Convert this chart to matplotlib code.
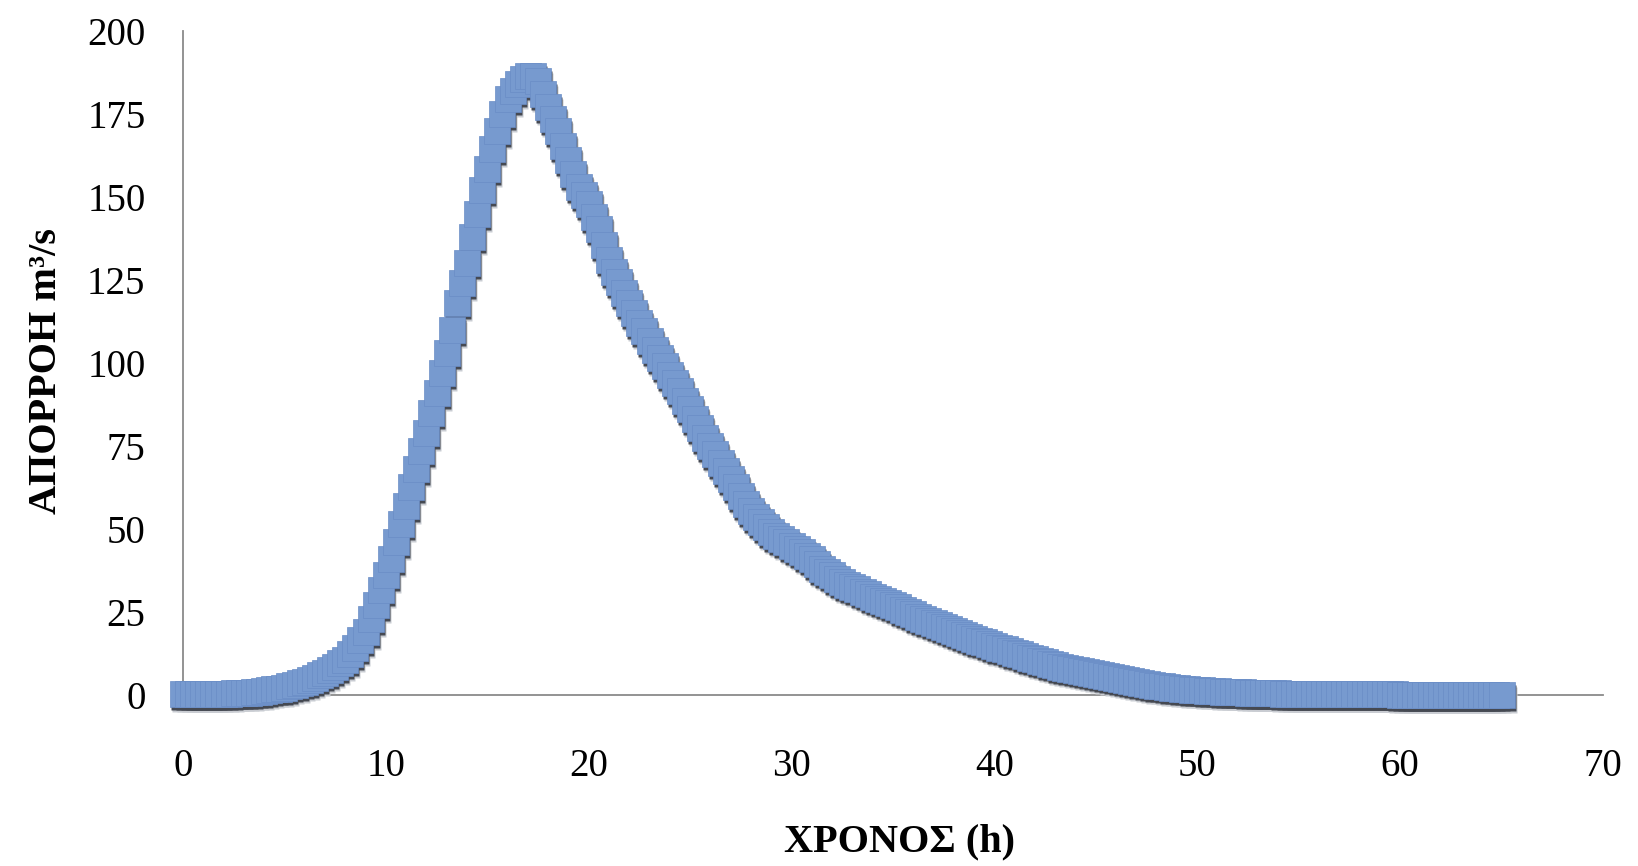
import numpy as np
import matplotlib
matplotlib.use("Agg")
import matplotlib.pyplot as plt
from matplotlib.transforms import offset_copy

# ---- data: runoff hydrograph, sampled every 0.25 h (one row per hour) ----
time_step_h = 0.25
flow_m3s = [
    0.3, 0.3, 0.3, 0.3,
    0.3, 0.3, 0.3, 0.4,
    0.4, 0.4, 0.5, 0.5,
    0.6, 0.7, 0.8, 1.0,
    1.2, 1.4, 1.7, 1.9,
    2.2, 2.6, 3.0, 3.5,
    4.0, 4.6, 5.2, 5.9,
    6.6, 7.5, 8.5, 9.5,
    10.5, 12.2, 14.0, 16.5,
    19.0, 23.0, 27.0, 31.5,
    36.0, 41.0, 46.0, 51.5,
    57.0, 62.5, 68.0, 73.5,
    79.0, 85.0, 91.0, 97.0,
    103.0, 110.0, 118.0, 124.0,
    130.0, 138.0, 145.0, 152.0,
    158.5, 164.5, 170.0, 175.0,
    179.5, 182.0, 184.0, 185.5,
    186.5, 186.5, 185.0, 181.0,
    177.0, 173.5, 170.0, 165.5,
    161.0, 157.0, 153.0, 150.5,
    148.0, 144.0, 140.5, 135.5,
    131.0, 127.5, 124.5, 121.0,
    118.0, 115.0, 112.0, 109.5,
    106.5, 104.0, 101.5, 99.0,
    96.5, 94.0, 91.5, 88.5,
    86.0, 83.0, 80.5, 77.5,
    75.0, 72.5, 70.0, 67.5,
    65.0, 62.5, 60.0, 57.5,
    55.5, 53.5, 52.0, 50.5,
    49.0, 48.0, 47.0, 46.0,
    45.0, 44.0, 43.0, 42.0,
    41.0, 39.5, 38.0, 37.0,
    36.0, 35.0, 34.0, 33.0,
    32.5, 31.8, 31.0, 30.3,
    29.6, 29.0, 28.4, 27.7,
    27.1, 26.4, 25.7, 25.0,
    24.3, 23.6, 23.0, 22.3,
    21.7, 21.1, 20.5, 19.9,
    19.3, 18.7, 18.1, 17.5,
    17.0, 16.4, 15.9, 15.4,
    14.8, 14.2, 13.7, 13.2,
    12.7, 12.2, 11.7, 11.2,
    10.7, 10.3, 9.8, 9.4,
    8.9, 8.5, 8.1, 7.8,
    7.4, 7.1, 6.8, 6.5,
    6.2, 5.9, 5.6, 5.3,
    5.0, 4.7, 4.5, 4.2,
    3.9, 3.6, 3.4, 3.1,
    2.8, 2.6, 2.4, 2.2,
    2.0, 1.8, 1.7, 1.6,
    1.5, 1.4, 1.3, 1.2,
    1.1, 1.0, 1.0, 0.9,
    0.8, 0.8, 0.7, 0.7,
    0.6, 0.6, 0.5, 0.5,
    0.5, 0.4, 0.4, 0.4,
    0.3, 0.3, 0.3, 0.3,
    0.3, 0.3, 0.3, 0.3,
    0.2, 0.2, 0.2, 0.2,
    0.2, 0.2, 0.2, 0.2,
    0.2, 0.2, 0.2, 0.2,
    0.1, 0.1, 0.1, 0.1,
    0.1, 0.1, 0.1, 0.1,
    0.1, 0.1, 0.1, 0.1,
    0.0, 0.0, 0.0, 0.0,
    0.0, 0.0, 0.0, 0.0,
    0.0,
]
time_h = np.arange(len(flow_m3s)) * time_step_h

x_ticks = [0, 10, 20, 30, 40, 50, 60, 70]
y_ticks = [0, 25, 50, 75, 100, 125, 150, 175, 200]
x_label = "ΧΡΟΝΟΣ (h)"
y_label = "ΑΠΟΡΡΟΗ m³/s"

# ---- figure ----
plt.rcParams["font.family"] = ["Liberation Serif", "DejaVu Serif"]
fig = plt.figure(figsize=(16.38, 8.66), dpi=100)
ax = fig.add_axes([0.1117, 0.1975, 0.8669, 0.7667])

ms = 19
face = "#779ACF"
edge = "#6A8DC6"

# soft + hard shadows
sh1 = offset_copy(ax.transData, fig=fig, x=2, y=-5, units="dots")
ax.plot(time_h, flow_m3s, "s", ms=ms, color="#c9ccd2", mec="none",
        transform=sh1, clip_on=False, zorder=2)
sh2 = offset_copy(ax.transData, fig=fig, x=1, y=-3, units="dots")
ax.plot(time_h, flow_m3s, "s", ms=ms, color="#454952", mec="none",
        transform=sh2, clip_on=False, zorder=3)
ax.plot(time_h, flow_m3s, "s", ms=ms, mfc=face, mec=edge, mew=0.5,
        clip_on=False, zorder=4)

ax.set_xlim(0, 70)
ax.set_ylim(0, 200)
ax.set_xticks(x_ticks)
ax.set_yticks(y_ticks)
ax.tick_params(axis="both", length=0, labelsize=28, colors="black")
ax.tick_params(axis="x", pad=38)
ax.tick_params(axis="y", pad=27)

for s in ["top", "right"]:
    ax.spines[s].set_visible(False)
for s in ["left", "bottom"]:
    ax.spines[s].set_color("#8a8a8a")
    ax.spines[s].set_linewidth(1.3)
    ax.spines[s].set_zorder(1)
ax.set_facecolor("none")

fig.text(899 / 1638, 1 - 842 / 866, x_label, ha="center", va="center",
         fontsize=29, fontweight="bold")
fig.text(47 / 1638, 1 - 371 / 866, y_label, ha="center", va="center",
         rotation=90, fontsize=29, fontweight="bold")

fig.savefig("out.png", dpi=100, facecolor="white")
